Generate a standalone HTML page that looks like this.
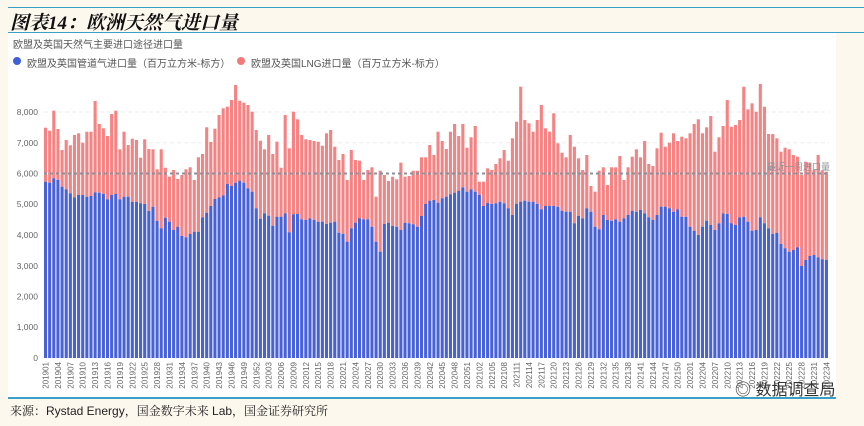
<!DOCTYPE html>
<html><head><meta charset="utf-8">
<style>
html,body{margin:0;padding:0;}
body{width:864px;height:426px;background:#fdf8ee;position:relative;overflow:hidden;font-family:"Liberation Sans","Noto Sans CJK SC",sans-serif;}
#panel{position:absolute;left:8px;top:33px;width:828px;height:365px;background:#fff;}
.t{position:absolute;white-space:nowrap;}
</style></head><body>
<div style="position:absolute;left:8px;top:7px;width:856px;height:1px;background:#3a9fc8"></div>
<div class="t" style="left:10px;top:8px;font:italic bold 19px 'Liberation Serif','Noto Serif CJK SC',serif;color:#111;">图表14：欧洲天然气进口量</div>
<div style="position:absolute;left:8px;top:32px;width:856px;height:1px;background:#3a9fc8"></div>
<div id="panel"></div>
<div class="t" style="left:13px;top:36px;font-size:10px;color:#555;">欧盟及英国天然气主要进口途径进口量</div>
<div style="position:absolute;left:13px;top:57px;width:8px;height:8px;border-radius:50%;background:#3f5fd6"></div>
<div class="t" style="left:27px;top:55px;font-size:10px;color:#555;">欧盟及英国管道气进口量（百万立方米-标方）</div>
<div style="position:absolute;left:237px;top:57px;width:8px;height:8px;border-radius:50%;background:#f27a7a"></div>
<div class="t" style="left:251px;top:55px;font-size:10px;color:#555;">欧盟及英国LNG进口量（百万立方米-标方）</div>
<svg id="c" width="864" height="426" style="position:absolute;left:0;top:0" xmlns="http://www.w3.org/2000/svg">
<g font-size="8.5" fill="#666" text-anchor="end" font-family="Liberation Sans, sans-serif">
<text x="38" y="361">0</text><text x="38" y="330">1,000</text><text x="38" y="299.5">2,000</text>
<text x="38" y="269">3,000</text><text x="38" y="238">4,000</text><text x="38" y="207">5,000</text>
<text x="38" y="176.5">6,000</text><text x="38" y="146">7,000</text><text x="38" y="115">8,000</text>
</g>
<line x1="44" x2="829" y1="142.75" y2="142.75" stroke="#eee" stroke-dasharray="4,3"/>
<line x1="44" x2="829" y1="112" y2="112" stroke="#eee" stroke-dasharray="4,3"/>
<g id="bars"></g>
<line x1="44" x2="829" y1="173.5" y2="173.5" stroke="#8a8f99" stroke-width="2" stroke-dasharray="3,3"/>
<text x="830" y="170" font-size="9" fill="#8a8f99" text-anchor="end">最近一周进口量</text>
<g id="xl" font-size="8" fill="#666" text-anchor="end" font-family="Liberation Sans, sans-serif">
<text>201901</text><text>201904</text><text>201907</text><text>201910</text><text>201913</text><text>201916</text><text>201919</text><text>201922</text><text>201925</text><text>201928</text><text>201931</text><text>201934</text><text>201937</text><text>201940</text><text>201943</text><text>201946</text><text>201949</text><text>201952</text>
<text>202003</text><text>202006</text><text>202009</text><text>202012</text><text>202015</text><text>202018</text><text>202021</text><text>202024</text><text>202027</text><text>202030</text><text>202033</text><text>202036</text><text>202039</text><text>202042</text><text>202045</text><text>202048</text><text>202051</text>
<text>202102</text><text>202105</text><text>202108</text><text>202111</text><text>202114</text><text>202117</text><text>202120</text><text>202123</text><text>202126</text><text>202129</text><text>202132</text><text>202135</text><text>202138</text><text>202141</text><text>202144</text><text>202147</text><text>202150</text>
<text>202201</text><text>202204</text><text>202207</text><text>202210</text><text>202213</text><text>202216</text><text>202219</text><text>202222</text><text>202225</text><text>202228</text><text>202231</text><text>202234</text>
</g>
</svg>
<div style="position:absolute;left:8px;top:397px;width:828px;height:2px;background:#3a9fc8"></div>
<div class="t" style="left:10px;top:402px;font-size:12px;color:#222;font-family:'Liberation Sans','Noto Serif CJK SC',serif;">来源：Rystad Energy，国金数字未来 Lab，国金证券研究所</div>
<div class="t" style="left:735px;top:376px;font-size:16px;color:#333;">◎ 数据调查局</div>
<script>
var z4t=[143,152,92,147,210,180,196,165,160,188,155,155,63,132,145,168,102,92,208,155,195,176,180,233,178,207,208,268,208,263,290,270,297,285,268,262,300,232,222,142,186,146,105,85,80,60,15,62,68,75,95,150,182,208,165,222,185,263,105,205,95,118];
var z4b=[305,308,295,300,320,328,340,352,345,345,350,348,337,338,342,358,345,342,358,350,350,366,366,370,372,393,380,423,445,413,425,450,440,468,472,462,455,455,412,398,378,357,352,346,312,318,308,302,308,325,335,385,416,400,407,437,410,410,400,457,403,402];
var z5t=[165,178,180,183,185,197,160,150,200,240,222,300,210,240,242,300,270,262,350,272,285,303,290,298,248,290,288,272,272,232,232,195,225,155,183,207,155,132,168,132,203,172,138,305,305,265,270,252,235,210,242,175,125,20,120,130,155,120,75,145,155,100,190,218,232,165,200,235,270,225,318,335,272,262,315,262,262];
var z5b=[418,420,415,420,425,425,432,428,425,458,462,485,445,428,415,418,418,440,485,515,432,428,438,440,450,428,430,433,440,408,372,362,360,368,355,350,343,338,332,322,335,328,335,345,378,368,372,370,365,370,385,405,372,365,362,365,365,372,388,378,378,378,380,392,395,395,430,408,415,385,395,440,448,405,420,422,418];
var z3t=[228,300,262,230,208,232,183,252,258,205,158,200,188,160,183,170,175,160,132,118,160,142,108,215,172,138,60,140,135,120,20,88,70,95,12,80,162,162,175,215,203,208,225,230,285,245,248,270,225,272,275];
var z3b=[425,415,405,392,395,390,400,412,420,405,380,380,385,395,388,410,410,440,452,465,440,422,435,450,430,400,402,430,435,412,410,425,452,450,412,430,445,462,458,492,505,515,510,502,558,540,528,525,532,538,540];
var T=z4t.concat(z5t,z3t), B=z4b.concat(z5b,z3b);
var n=190; T=T.slice(0,n); B=B.slice(0,n);
var w=785/n, s='';
for(var i=0;i<n;i++){
 var x=44+i*w, tt=80+T[i]/3, bb=80+B[i]/3;
 if(bb<tt)bb=tt+5;
 s+='<rect x="'+x.toFixed(2)+'" y="'+tt.toFixed(1)+'" width="3.1" height="'+(bb-tt).toFixed(1)+'" fill="#f58383"/>';
 s+='<rect x="'+x.toFixed(2)+'" y="'+bb.toFixed(1)+'" width="3.1" height="'+(358-bb).toFixed(1)+'" fill="#4862d6"/>';
}
document.getElementById('bars').innerHTML=s;
var lbl=document.getElementById('xl').getElementsByTagName('text');
for(var k=0;k<lbl.length;k++){
 var cx=44+3*k*w+1.55+3;
 lbl[k].setAttribute('transform','translate('+cx.toFixed(2)+',362) rotate(-90)');
}
</script>
</body></html>
